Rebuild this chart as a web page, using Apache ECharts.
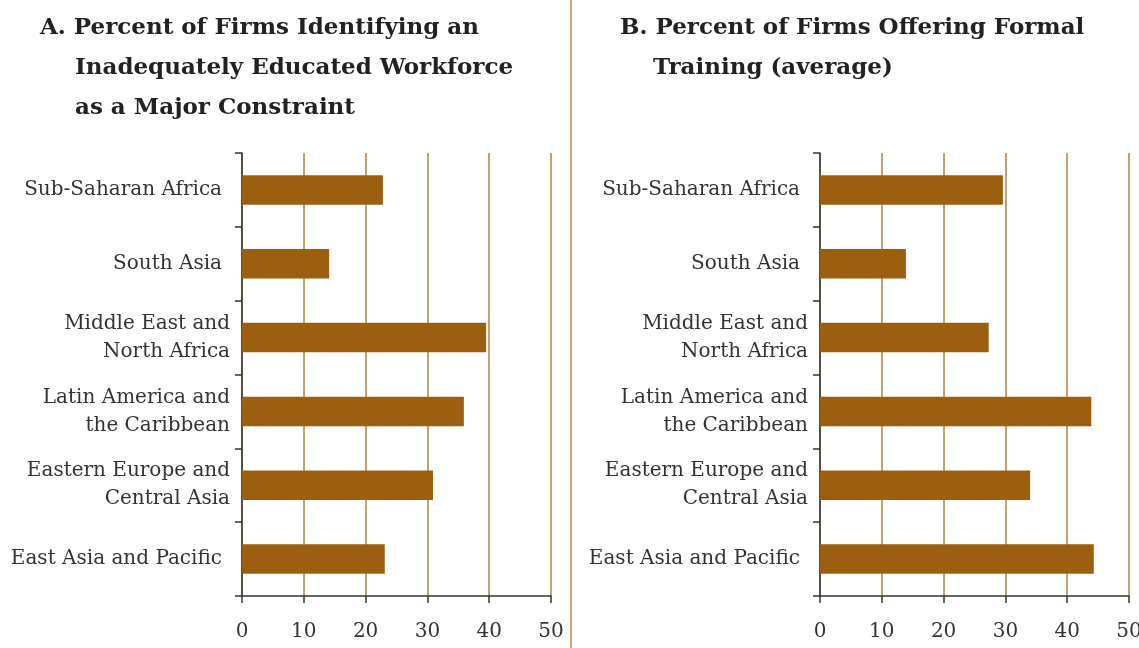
<!DOCTYPE html>
<html>
<head>
<meta charset="utf-8">
<script src="https://cdn.jsdelivr.net/npm/echarts@6/dist/echarts.min.js"></script>
<style>
  html, body { margin: 0; padding: 0; background: #fff; }
  #chart { width: 1139px; height: 648px; }
</style>
</head>
<body>
<div id="chart"></div>
<script>
// regions, top to bottom as drawn
var regions = [
  "Sub-Saharan Africa",
  "South Asia",
  "Middle East and\nNorth Africa",
  "Latin America and\nthe Caribbean",
  "Eastern Europe and\nCentral Asia",
  "East Asia and Pacific"
];
// panel A: % firms naming an inadequately educated workforce a major constraint
var constraintPct = [22.8, 14.1, 39.5, 35.9, 30.9, 23.1];
// panel B: % firms offering formal training
var trainingPct = [29.6, 13.9, 27.3, 43.9, 34.0, 44.3];
var xTicks = [0, 10, 20, 30, 40, 50];

var barColor = "#9c5f0f";
var gridColor = "#b3823f";
var axisColor = "#333";
var labelFont = "DejaVu Serif";

function catData() {
  // one-line names sit a little further from the axis than the two-line ones
  return regions.map(function (r) {
    if (r.indexOf("\n") >= 0) return r;
    return { value: r, textStyle: { padding: [0, 8, 0, 0] } };
  });
}

function xAxisFor(idx) {
  return {
    gridIndex: idx,
    type: "value",
    min: xTicks[0],
    max: xTicks[xTicks.length - 1],
    interval: 10,
    axisLine: { show: true, onZero: false, lineStyle: { color: axisColor, width: 1.5 } },
    axisTick: { show: true, length: 7, lineStyle: { color: axisColor, width: 1.5 } },
    axisLabel: { color: "#333", fontFamily: labelFont, fontSize: 20, margin: 26 },
    splitLine: { show: true, lineStyle: { color: gridColor, width: 1.5 } }
  };
}

function yAxisFor(idx) {
  return {
    gridIndex: idx,
    type: "category",
    inverse: true,
    data: catData(),
    axisLine: { show: true, lineStyle: { color: axisColor, width: 1.5 } },
    axisTick: { show: true, length: 7, lineStyle: { color: axisColor, width: 1.5 } },
    axisLabel: { color: "#333", fontFamily: labelFont, fontSize: 20, lineHeight: 28, margin: 12 },
    splitLine: { show: false }
  };
}

var titleStyle = { color: "#222", fontFamily: "DejaVu Serif", fontWeight: "bold", fontSize: 23 };
var titleLines = [
  { text: "A. Percent of Firms Identifying an", left: 40, top: 17 },
  { text: "Inadequately Educated Workforce", left: 75, top: 57 },
  { text: "as a Major Constraint", left: 75, top: 97 },
  { text: "B. Percent of Firms Offering Formal", left: 620, top: 17 },
  { text: "Training (average)", left: 653, top: 57 }
];

var option = {
  backgroundColor: "#fff",
  animation: false,
  title: titleLines.map(function (t) {
    return { text: t.text, left: t.left, top: t.top, padding: 0, textStyle: titleStyle };
  }),
  grid: [
    { left: 242, right: 588, top: 153, bottom: 52, outerBoundsMode: "none" },
    { left: 820, right: 10, top: 153, bottom: 52, outerBoundsMode: "none" }
  ],
  xAxis: [xAxisFor(0), xAxisFor(1)],
  yAxis: [yAxisFor(0), yAxisFor(1)],
  graphic: [{
    type: "line",
    shape: { x1: 571, y1: 0, x2: 571, y2: 648 },
    style: { stroke: "#b8864a", lineWidth: 1.5 }
  }],
  series: [
    { type: "bar", xAxisIndex: 0, yAxisIndex: 0, data: constraintPct, barWidth: "40%", itemStyle: { color: barColor } },
    { type: "bar", xAxisIndex: 1, yAxisIndex: 1, data: trainingPct, barWidth: "40%", itemStyle: { color: barColor } }
  ]
};

var chart = echarts.init(document.getElementById("chart"));
chart.setOption(option);
</script>
</body>
</html>
